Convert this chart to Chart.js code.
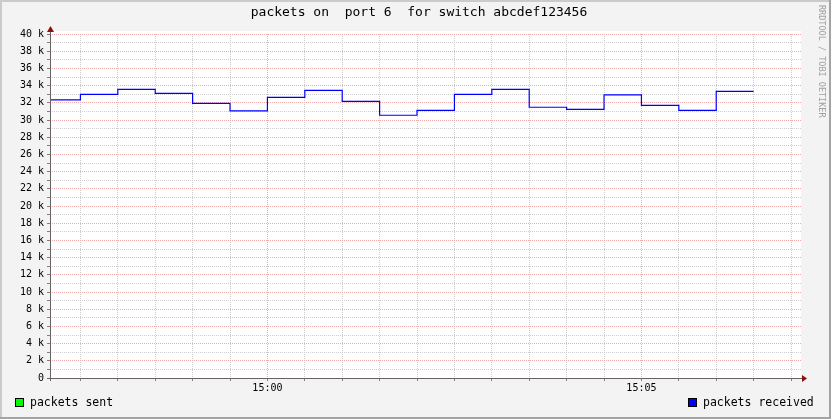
<!DOCTYPE html>
<html>
<head>
<meta charset="utf-8">
<script src="https://cdn.jsdelivr.net/npm/chart.js@4/dist/chart.umd.min.js"></script>
<style>
html,body{margin:0;padding:0;background:#f3f3f3;}
#wrap{width:831px;height:419px;position:relative;}
</style>
</head>
<body>
<div id="wrap"><canvas id="c" width="831" height="419"></canvas></div>
<script>
// ---- data ----
const titleText = "packets on  port 6  for switch abcdef123456";
const watermark = "RRDTOOL / TOBI OETIKER";
// seconds relative to 15:00; each value holds for the 30 s ending at its time
const times = [-180,-150,-120,-90,-60,-30,0,30,60,90,120,150,180,210,240,270,300,330,360,390];
const packetsReceived = [32330,32330,32990,33570,33100,31940,31050,32640,33450,32170,30550,31130,32990,33570,31480,31240,32910,31710,31130,33340];
const packetsSent = [];
const seriesNames = ["packets sent","packets received"];
const seriesColors = ["#00ff00","#0000ff"];
const xTickLabels = {0:"15:00",300:"15:05"};
const yTicks = [0,2000,4000,6000,8000,10000,12000,14000,16000,18000,20000,22000,24000,26000,28000,30000,32000,34000,36000,38000,40000];

const FONT = "'DejaVu Sans Mono', monospace";
const GREY = "rgba(205,205,205,1)";
const PINK = "rgba(242,172,172,1)";

const framePlugin = {
  id:'frame',
  beforeDraw(chart){
    const c = chart.ctx, a = chart.chartArea;
    c.save();
    c.fillStyle = '#f3f3f3';
    c.fillRect(0,0,chart.width,chart.height);
    c.fillStyle = '#ffffff';
    c.fillRect(a.left, a.top-3, a.right-a.left, a.bottom-a.top+3);
    c.restore();
  },
  afterDraw(chart){
    const c = chart.ctx, a = chart.chartArea, W = chart.width, H = chart.height;
    c.save();
    c.setLineDash([]);
    // axes
    c.strokeStyle = '#6a6262';
    c.lineWidth = 1;
    c.beginPath();
    c.moveTo(a.left+0.5, a.bottom+3); c.lineTo(a.left+0.5, a.top-3);
    c.moveTo(a.left-3, a.bottom+0.5); c.lineTo(a.right+2, a.bottom+0.5);
    c.stroke();
    // arrows
    c.fillStyle = '#8b1010';
    c.beginPath();
    c.moveTo(a.left-3, a.top-2); c.lineTo(a.left+4, a.top-2); c.lineTo(a.left+0.5, a.top-8); c.closePath(); c.fill();
    c.beginPath();
    c.moveTo(a.right+1, a.bottom-3); c.lineTo(a.right+1, a.bottom+4); c.lineTo(a.right+6, a.bottom+0.5); c.closePath(); c.fill();
    // title
    c.fillStyle = '#000';
    c.font = '13px ' + FONT;
    c.textAlign = 'center'; c.textBaseline = 'middle';
    c.fillText(titleText, 419, 13);
    // legend
    c.font = '11.5px ' + FONT;
    c.textAlign = 'left';
    const legend = [[15, 30],[688, 703]];
    for (let i=0;i<2;i++){
      c.fillStyle = seriesColors[i];
      c.fillRect(legend[i][0], 398, 9, 9);
      c.strokeStyle = '#000';
      c.strokeRect(legend[i][0]+0.5, 398.5, 8, 8);
      c.fillStyle = '#000';
      c.fillText(seriesNames[i], legend[i][1], 403.5);
    }
    // watermark
    c.save();
    c.translate(819, 5);
    c.rotate(Math.PI/2);
    c.font = '8.5px ' + FONT;
    c.fillStyle = '#a0a0a0';
    c.textAlign = 'left'; c.textBaseline = 'middle';
    c.fillText(watermark, 0, -2.5);
    c.restore();
    // outer frame
    c.fillStyle = '#cbcbcb';
    c.fillRect(0,0,W,2);
    c.fillRect(0,0,2,H);
    c.fillStyle = '#a3a3a3';
    c.fillRect(W-2,0,2,H);
    c.fillRect(0,H-2,W,2);
    c.restore();
  }
};

new Chart(document.getElementById('c'), {
  type:'line',
  data:{
    datasets:[
      {label:seriesNames[0], data:packetsSent.map((v,i)=>({x:times[i],y:v})), borderColor:seriesColors[0], borderWidth:1, pointRadius:0, stepped:'after'},
      {label:seriesNames[1], data:packetsReceived.map((v,i)=>({x:times[i],y:v})), borderColor:seriesColors[1], borderWidth:1.2, pointRadius:0, stepped:'after', fill:false}
    ]
  },
  options:{
    responsive:false,
    animation:false,
    events:[],
    layout:{padding:{top:34,right:30,left:0,bottom:0}},
    plugins:{legend:{display:false}, title:{display:false}, tooltip:{enabled:false}},
    scales:{
      x:{
        type:'linear', min:-174.4, max:428,
        afterBuildTicks(s){ const t=[]; for(let v=-150; v<=420; v+=30) t.push({value:v}); s.ticks=t; },
        afterFit(s){ s.height = 41; },
        border:{display:false, dash:[1,1]},
        grid:{
          color:ctx => (ctx.tick && ctx.tick.value % 300 === 0) ? PINK : GREY,
          lineWidth:1, drawTicks:true, tickLength:3,
          tickColor:'#808080', tickBorderDash:[]
        },
        ticks:{
          autoSkip:false, maxRotation:0, padding:1,
          color:'#000', font:{family:FONT, size:10},
          callback:v => (xTickLabels[v] !== undefined ? xTickLabels[v] : '')
        }
      },
      y:{
        type:'linear', min:0, max:40000,
        afterBuildTicks(s){ const t=[]; for(let v=0; v<=40000; v+=1000) t.push({value:v}); s.ticks=t; },
        afterFit(s){ s.width = 50; },
        border:{display:false, dash:[1,1]},
        grid:{
          color:ctx => (ctx.tick && ctx.tick.value % 2000 === 0) ? PINK : GREY,
          lineWidth:1, drawTicks:true, tickLength:3,
          tickColor:'#808080', tickBorderDash:[]
        },
        ticks:{
          autoSkip:false, padding:3,
          color:'#000', font:{family:FONT, size:10},
          callback:v => yTicks.includes(v) ? (v===0 ? '0' : (v/1000)+' k') : ''
        }
      }
    }
  },
  plugins:[framePlugin]
});
</script>
</body>
</html>
